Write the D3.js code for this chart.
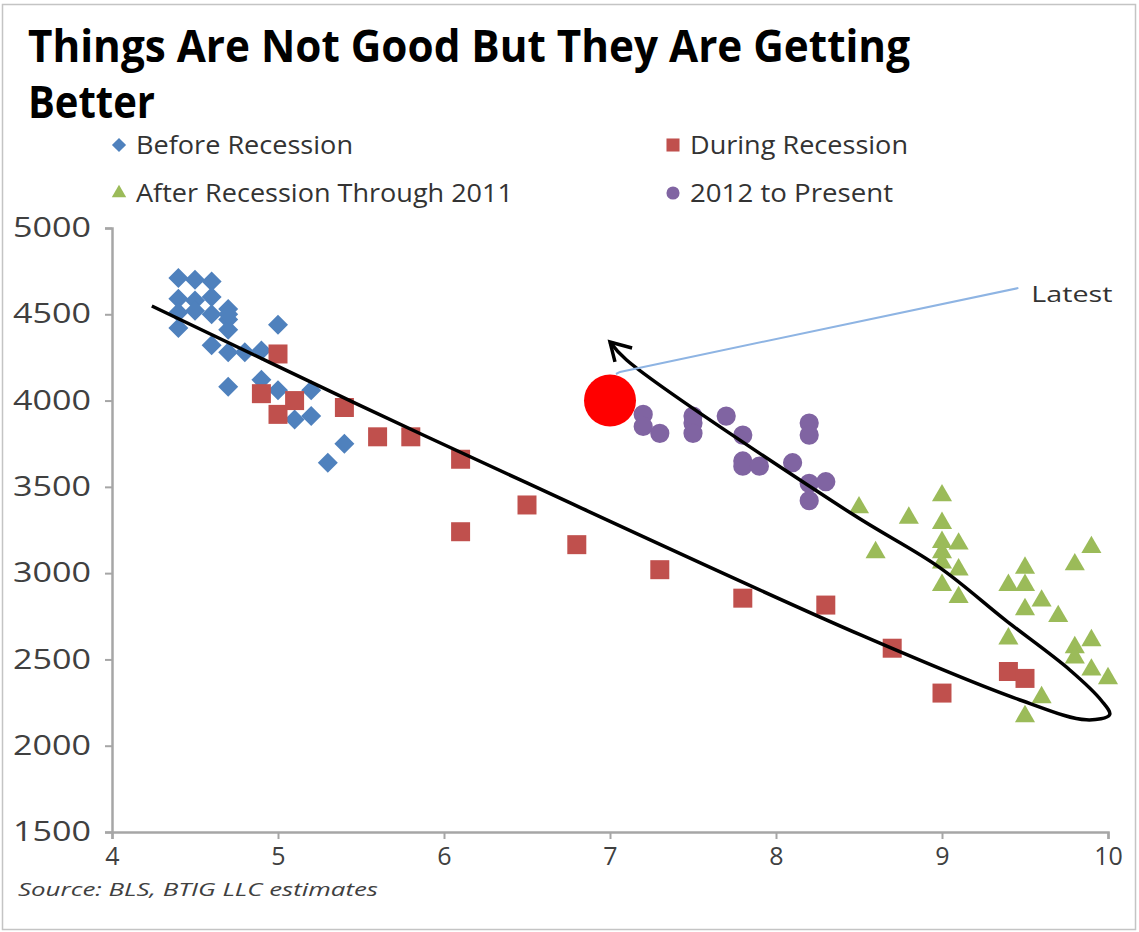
<!DOCTYPE html>
<html lang="en">
<head>
    <meta charset="UTF-8">
    <title>Things Are Not Good But They Are Getting Better</title>
    <script src="https://cdn.jsdelivr.net/npm/d3@7"></script>
    <style>
        body { margin: 0; background: #fff; }
        text { font-family: "Open Sans", "Noto Sans", sans-serif; }
    </style>
</head>
<body>
<svg width="1139" height="932"></svg>
<script>
// unemployment rate (x) vs value (y)
const beforeRecession = [
    [4.4,4710],[4.5,4700],[4.6,4690],[4.4,4590],[4.5,4580],[4.6,4600],[4.7,4530],
    [4.7,4470],[4.7,4410],[4.4,4420],[4.6,4320],[4.7,4280],[4.8,4280],[4.9,4290],
    [5.0,4440],[4.7,4080],[4.9,4120],[5.0,4060],[5.1,3890],[5.2,3910],[5.2,4060],
    [5.4,3750],[5.3,3640],[4.5,4520],[4.4,4510],[4.6,4500],[4.7,4500]
];
const duringRecession = [
    [5.0,4270],[4.9,4040],[5.0,3920],[5.1,4000],[5.4,3960],[5.6,3790],[5.8,3790],
    [6.1,3660],[6.1,3240],[6.5,3395],[6.8,3165],[7.3,3020],[7.8,2855],[8.3,2815],
    [8.7,2565],[9.0,2305],[9.4,2430],[9.5,2390]
];
const afterRecession = [
    [8.5,3380],[8.8,3320],[8.6,3120],[9.0,3450],[9.0,3290],[9.0,3180],[9.1,3170],
    [9.0,3120],[9.0,3060],[9.1,3020],[9.0,2930],[9.1,2860],[9.9,3150],[9.8,3050],
    [9.5,3030],[9.4,2930],[9.5,2930],[9.6,2840],[9.5,2790],[9.7,2750],[9.4,2620],
    [9.8,2570],[9.9,2610],[9.8,2510],[9.9,2440],[10.0,2390],[9.6,2280],[9.5,2170]
];
const present2012 = [
    [7.2,3920],[7.2,3850],[7.3,3810],[7.5,3910],[7.5,3870],[7.5,3810],[7.7,3910],
    [7.8,3800],[7.8,3650],[7.8,3620],[7.9,3620],[8.1,3640],[8.2,3870],[8.2,3800],
    [8.2,3520],[8.2,3420],[8.3,3530]
];
const latestPoint = [7.0, 4000];

// hand-drawn loop and arrow, in data units
const loopPath = [
    [4.24,4548],[5.49,3974],[6.46,3540],[8.51,2642],[9.47,2265],[9.87,2150],
    [10.01,2180],[9.96,2262],[9.77,2439],[9.38,2729],[8.98,3036],[8.45,3348],
    [7.10,4235],[7.0,4339]
];
const arrowHead = [[7.133,4305],[7.0,4339],[7.03,4224]];
const latestLine = [[9.46,4652],[7.06,4166],[7.036,4154]];

const xTicks = [4,5,6,7,8,9,10];
const yTicks = [1500,2000,2500,3000,3500,4000,4500,5000];

const titleLines = ["Things Are Not Good But They Are Getting", "Better"];
const legendItems = ["Before Recession", "During Recession", "After Recession Through 2011", "2012 to Present"];
const sourceText = "Source:  BLS, BTIG  LLC estimates";

const svg = d3.select("svg");

svg.append("rect")
    .attr("x", 2.5).attr("y", 4.5).attr("width", 1133).attr("height", 925)
    .attr("fill", "none").attr("stroke", "#c4c4c4").attr("stroke-width", 1.5);

const xScale = d3.scaleLinear().domain([4,10]).range([112,1108]);
const yScale = d3.scaleLinear().domain([1500,5000]).range([832,228]);

function fit(sel, w) {
    sel.attr("textLength", w).attr("lengthAdjust", "spacingAndGlyphs");
}

// title
svg.append("text").attr("x", 28).attr("y", 62)
    .attr("font-size", 44).attr("font-weight", 700).attr("fill", "#000")
    .text(titleLines[0]).call(fit, 882);
svg.append("text").attr("x", 28).attr("y", 118)
    .attr("font-size", 44).attr("font-weight", 700).attr("fill", "#000")
    .text(titleLines[1]).call(fit, 127);

// axes
const yAxis = svg.append("g")
    .attr("transform", "translate(" + xScale(4) + ",0)")
    .call(d3.axisLeft(yScale).tickValues(yTicks).tickFormat(d3.format("d")).tickSize(7).tickPadding(14));
const xAxis = svg.append("g")
    .attr("transform", "translate(0," + yScale(1500) + ")")
    .call(d3.axisBottom(xScale).tickValues(xTicks).tickFormat(d3.format("d")).tickSize(7).tickPadding(8));
[xAxis, yAxis].forEach(function(a) {
    a.select(".domain").attr("stroke", "#a6a6a6").attr("stroke-width", 2.5);
    a.selectAll(".tick line").attr("stroke", "#a6a6a6").attr("stroke-width", 2);
    a.selectAll(".tick text").attr("fill", "#404040").attr("font-size", 27)
        .style("font-family", "'Open Sans', sans-serif");
});
yAxis.selectAll(".tick text").call(fit, 78);
xAxis.selectAll(".tick text").attr("font-size", 25);

const series = [
    {data: beforeRecession, color: "#4f81bd", type: d3.symbolSquare, size: 200, rot: 45},
    {data: duringRecession, color: "#c0504d", type: d3.symbolSquare, size: 361, rot: 0},
    {data: afterRecession, color: "#9bbb59", type: d3.symbolTriangle, size: 175, rot: 0},
    {data: present2012, color: "#8064a2", type: d3.symbolCircle, size: 290, rot: 0}
];

series.forEach(function(s) {
    svg.append("g").selectAll("path")
        .data(s.data)
        .join("path")
        .attr("d", d3.symbol().type(s.type).size(s.size))
        .attr("transform", d => "translate(" + xScale(d[0]) + "," + yScale(d[1]) + ") rotate(" + s.rot + ")")
        .attr("fill", s.color);
});

// loop + arrow
const line = d3.line().x(d => xScale(d[0])).y(d => yScale(d[1]));
svg.append("path")
    .attr("d", line.curve(d3.curveCatmullRom.alpha(0.5))(loopPath))
    .attr("fill", "none").attr("stroke", "#000").attr("stroke-width", 3.5);
svg.append("path")
    .attr("d", d3.line().x(d => xScale(d[0])).y(d => yScale(d[1]))(arrowHead))
    .attr("fill", "none").attr("stroke", "#000").attr("stroke-width", 3.5)
    .attr("stroke-linejoin", "miter");

// latest marker
svg.append("circle")
    .attr("cx", xScale(latestPoint[0])).attr("cy", yScale(latestPoint[1]))
    .attr("r", 26).attr("fill", "#ff0000");
svg.append("path")
    .attr("d", d3.line().x(d => xScale(d[0])).y(d => yScale(d[1]))(latestLine))
    .attr("fill", "none").attr("stroke", "#8eb4e3").attr("stroke-width", 2);
svg.append("text")
    .attr("x", xScale(latestLine[0][0]) + 13).attr("y", yScale(latestLine[0][1]) + 14)
    .attr("font-size", 22).attr("fill", "#333").text("Latest").call(fit, 81);

// legend
const legendPos = [[119,145,136,217],[673,145,690,218],[119,193,136,377],[673,193,690,203]];
const legendSizes = [100, 170, 90, 135];
series.forEach(function(s, i) {
    const p = legendPos[i];
    svg.append("path")
        .attr("d", d3.symbol().type(s.type).size(legendSizes[i]))
        .attr("transform", "translate(" + p[0] + "," + p[1] + ") rotate(" + s.rot + ")")
        .attr("fill", s.color);
    svg.append("text").attr("x", p[2]).attr("y", p[1] + 9)
        .attr("font-size", 25).attr("fill", "#333")
        .text(legendItems[i]).call(fit, p[3]);
});

// source
svg.append("text").attr("x", 18).attr("y", 896)
    .attr("font-size", 18).attr("font-style", "italic").attr("fill", "#404040")
    .text(sourceText).call(fit, 360);
</script>
</body>
</html>
